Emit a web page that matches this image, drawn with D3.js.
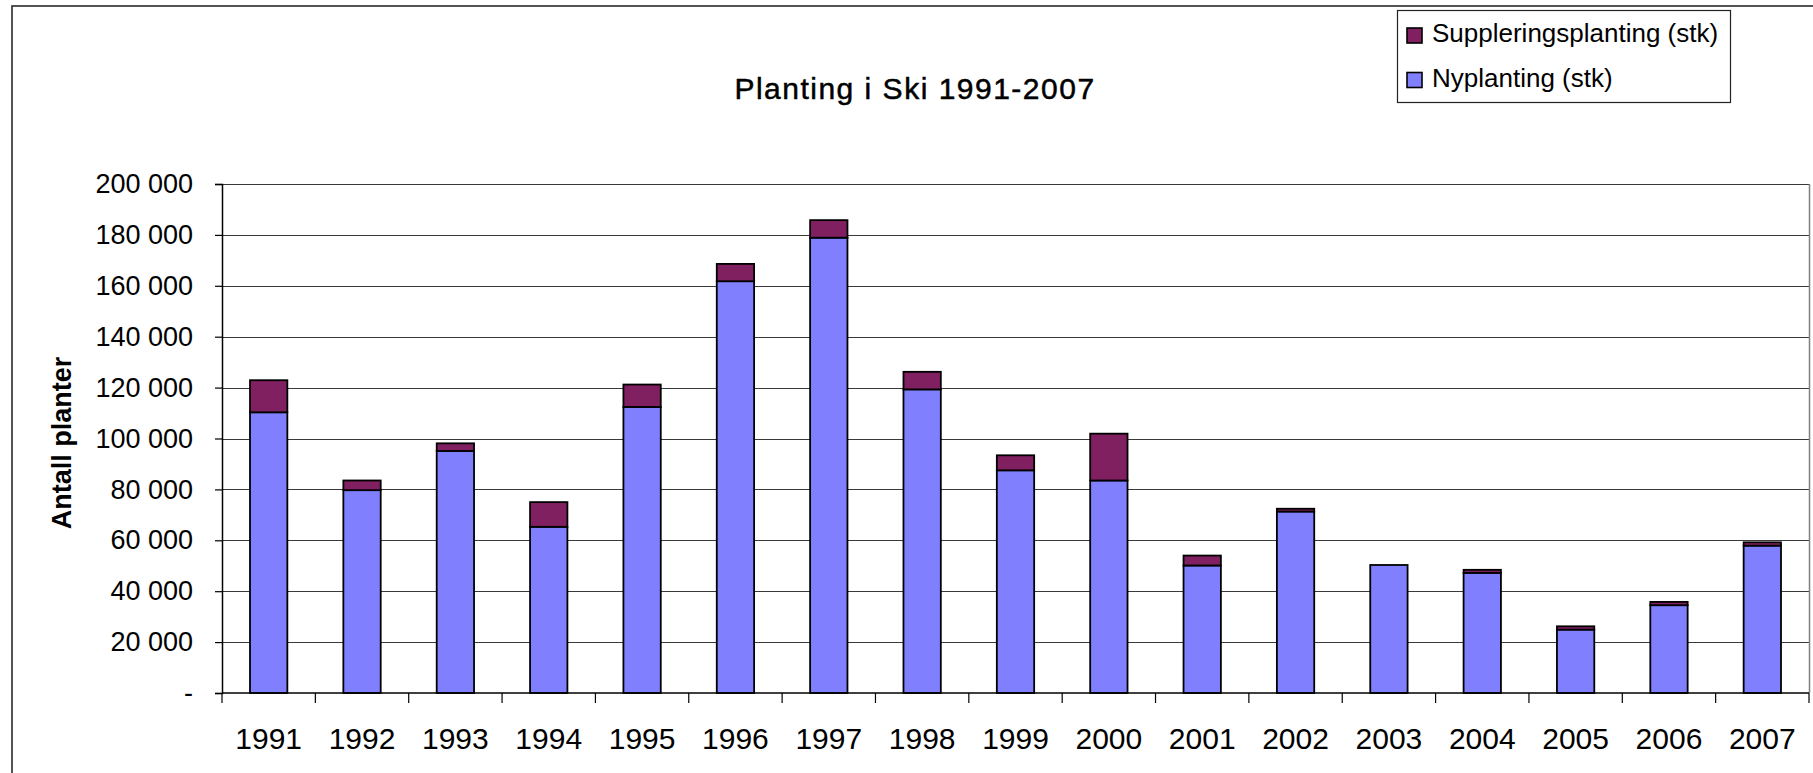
<!DOCTYPE html>
<html>
<head>
<meta charset="utf-8">
<script src="https://cdn.jsdelivr.net/npm/d3@7"></script>
<style>
  body { margin: 0; background: #fff; }
  svg { display: block; font-family: "Liberation Sans", Arial, sans-serif; }
</style>
</head>
<body>
<div id="chart"></div>
<script>
// data
const years = ["1991","1992","1993","1994","1995","1996","1997","1998","1999","2000","2001","2002","2003","2004","2005","2006","2007"];
const nyplanting = [110300, 79700, 95100, 65300, 112400, 161800, 178900, 119300, 87500, 83500, 50100, 71300, 50300, 47200, 24900, 34500, 57900];
const supplering = [12600, 3800, 3000, 9700, 8800, 6800, 6900, 6900, 5900, 18400, 3900, 1100, 0, 1200, 1300, 1300, 1300];
const yTicks = [0, 20000, 40000, 60000, 80000, 100000, 120000, 140000, 160000, 180000, 200000];
const seriesNames = ["Suppleringsplanting (stk)", "Nyplanting (stk)"];

const width = 1813;
const height = 773;

// plot area
const plot = { left: 222, right: 1809, top: 184, bottom: 693 };

const colours = { ny: "#8080ff", supp: "#802060" };

const svg = d3.select("#chart")
  .append("svg")
  .attr("width", width)
  .attr("height", height);

// outer chart border (runs off the right and bottom)
svg.append("rect")
  .attr("x", 12).attr("y", 6)
  .attr("width", width + 20).attr("height", height + 20)
  .attr("fill", "none")
  .attr("stroke", "#2a2a2a")
  .attr("stroke-width", 1.6);

const x = d3.scaleBand()
  .domain(years)
  .range([plot.left, plot.right])
  .paddingInner(0.6)
  .paddingOuter(0.3);

const y = d3.scaleLinear()
  .domain([0, 200000])
  .range([plot.bottom, plot.top]);

const locale = d3.formatLocale({ decimal: ",", thousands: " ", grouping: [3], currency: ["", ""] });
const fmt = locale.format(",");

// gridlines
svg.append("g")
  .selectAll("line")
  .data(yTicks.filter(d => d > 0))
  .enter()
  .append("line")
  .attr("x1", plot.left).attr("x2", plot.right)
  .attr("y1", d => Math.round(y(d)) + 0.5)
  .attr("y2", d => Math.round(y(d)) + 0.5)
  .attr("stroke", "#3a3a3a")
  .attr("stroke-width", 1.2);

// plot area right border
svg.append("line")
  .attr("x1", plot.right + 0.5).attr("x2", plot.right + 0.5)
  .attr("y1", plot.top).attr("y2", plot.bottom)
  .attr("stroke", "#808080")
  .attr("stroke-width", 1.5);

// stacked bars
const stackData = years.map((yr, i) => ({ year: yr, ny: nyplanting[i], supp: supplering[i] }));
const stacked = d3.stack().keys(["ny", "supp"])(stackData);

svg.append("g")
  .selectAll("g")
  .data(stacked)
  .enter()
  .append("g")
  .attr("fill", d => colours[d.key])
  .selectAll("rect")
  .data(d => d.filter(s => s[1] - s[0] > 0))
  .enter()
  .append("rect")
  .attr("x", d => x(d.data.year))
  .attr("width", x.bandwidth())
  .attr("y", d => y(d[1]))
  .attr("height", d => y(d[0]) - y(d[1]))
  .attr("stroke", "#000")
  .attr("stroke-width", 1.8);

// y axis
const yAxis = d3.axisLeft(y)
  .tickValues(yTicks)
  .tickSize(7)
  .tickPadding(22)
  .tickFormat(d => d === 0 ? "-" : fmt(d));

const gy = svg.append("g")
  .attr("transform", `translate(${plot.left},0)`)
  .call(yAxis);
gy.select(".domain").attr("stroke", "#000").attr("stroke-width", 1.5);
gy.selectAll(".tick line").attr("stroke", "#000").attr("stroke-width", 1.2);
gy.selectAll(".tick text")
  .attr("font-size", 27)
  .attr("font-family", "Liberation Sans, Arial, sans-serif")
  .attr("fill", "#000");

// x axis baseline and ticks between categories
svg.append("line")
  .attr("x1", plot.left).attr("x2", plot.right)
  .attr("y1", plot.bottom).attr("y2", plot.bottom)
  .attr("stroke", "#000")
  .attr("stroke-width", 1.5);

const boundaries = years.map(yr => x(yr) - x.step() * 0.3).concat([plot.right]);
svg.append("g")
  .selectAll("line")
  .data(boundaries)
  .enter()
  .append("line")
  .attr("x1", d => d).attr("x2", d => d)
  .attr("y1", plot.bottom).attr("y2", plot.bottom + 10)
  .attr("stroke", "#000")
  .attr("stroke-width", 1.2);

svg.append("g")
  .selectAll("text")
  .data(years)
  .enter()
  .append("text")
  .attr("x", d => x(d) + x.bandwidth() / 2)
  .attr("y", 749)
  .attr("text-anchor", "middle")
  .attr("font-size", 30)
  .text(d => d);

// title
svg.append("text")
  .attr("x", 915)
  .attr("y", 99)
  .attr("text-anchor", "middle")
  .attr("font-size", 30)
  .attr("letter-spacing", "1.5px")
  .attr("stroke", "#000")
  .attr("stroke-width", 0.5)
  .text("Planting i Ski 1991-2007");

// y axis label
svg.append("text")
  .attr("transform", "translate(71,443) rotate(-90)")
  .attr("text-anchor", "middle")
  .attr("font-size", 27)
  .attr("font-weight", "bold")
  .text("Antall planter");

// legend
const legend = svg.append("g");
legend.append("rect")
  .attr("x", 1397.5).attr("y", 10.5)
  .attr("width", 333).attr("height", 92)
  .attr("fill", "#fff")
  .attr("stroke", "#222")
  .attr("stroke-width", 1.2);

const legendColours = [colours.supp, colours.ny];
const items = legend.selectAll(".item")
  .data(seriesNames)
  .enter()
  .append("g")
  .attr("transform", (d, i) => `translate(1407,${28 + i * 44.5})`);

items.append("rect")
  .attr("width", 15).attr("height", 15)
  .attr("fill", (d, i) => legendColours[i])
  .attr("stroke", "#000")
  .attr("stroke-width", 1.6);

items.append("text")
  .attr("x", 25)
  .attr("y", 14)
  .attr("font-size", 26)
  .text(d => d);
</script>
</body>
</html>
